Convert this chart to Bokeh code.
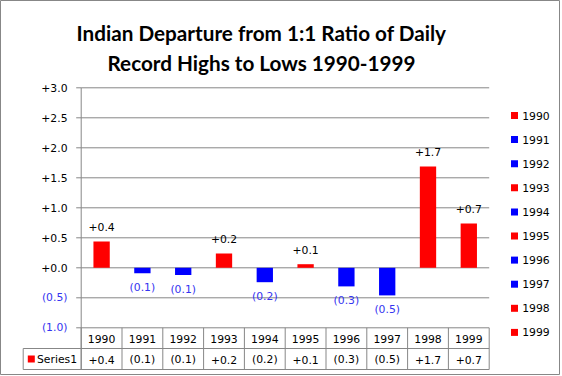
from bokeh.plotting import figure
from bokeh.models import Range1d, ColumnDataSource
from bokeh.core.properties import value
from bokeh.embed import file_html
from bokeh.resources import INLINE

# ---------------- data ----------------
years = ["1990", "1991", "1992", "1993", "1994", "1995", "1996", "1997", "1998", "1999"]
departures = [0.44, -0.09, -0.12, 0.24, -0.24, 0.06, -0.31, -0.46, 1.69, 0.74]
series_name = "Series1"
y_ticks = [3.0, 2.5, 2.0, 1.5, 1.0, 0.5, 0.0, -0.5, -1.0]
title_lines = ["Indian Departure from 1:1 Ratio of Daily",
               "Record Highs to Lows 1990-1999"]

# ---------------- style / layout ----------------
W, H = 560, 375
PX_X0, PX_CAT = 80.7, 40.8      # pixel of category edge 0, pixels per category
PX_Y0, PX_UNIT = 267.3, 60.0    # pixel of value 0, pixels per value unit
POS, NEG = "#FF0000", "#0000FF"
NEG_TEXT = "#3434F0"
GRID = "#878787"
FONT = value("DejaVu Sans")
FS = "10.8px"
LABEL_GAP = 0.235


def dx(px):
    return (px - PX_X0) / PX_CAT


def dy(py):
    return (PX_Y0 - py) / PX_UNIT


def fmt(v):
    s = f"{abs(v):.1f}"
    return "+" + s if v >= 0 else "(" + s + ")"


n = len(years)
xs = [i + 0.5 for i in range(n)]

p = figure(width=W, height=H, output_backend="svg", toolbar_location=None,
           x_range=Range1d(dx(0), dx(W)), y_range=Range1d(dy(H), dy(0)),
           x_axis_type=None, y_axis_type=None, min_border=0,
           outline_line_color=GRID, outline_line_width=1)
p.grid.visible = False
p.background_fill_color = "white"
p.border_fill_color = "white"

# gridlines
p.segment(x0=[0] * len(y_ticks), x1=[n] * len(y_ticks), y0=y_ticks, y1=y_ticks,
          line_color=GRID, line_width=1)
# y axis line (continues into table)
p.segment(x0=[0], x1=[0], y0=[max(y_ticks)], y1=[dy(369)], line_color=GRID, line_width=1)
# tick marks
p.segment(x0=[dx(75.7)] * len(y_ticks), x1=[0] * len(y_ticks), y0=y_ticks, y1=y_ticks,
          line_color=GRID, line_width=1)
# tick labels
tick_src = ColumnDataSource(dict(
    x=[dx(67)] * len(y_ticks), y=y_ticks, t=[fmt(t) for t in y_ticks],
    c=["black" if t >= 0 else NEG_TEXT for t in y_ticks]))
p.text(x="x", y="y", text="t", text_color="c", source=tick_src, text_font=FONT,
       text_font_size=FS, text_align="right", text_baseline="middle")

# bars
bar_src = ColumnDataSource(dict(
    x=xs, top=departures, c=[POS if v >= 0 else NEG for v in departures]))
p.vbar(x="x", top="top", bottom=0, width=0.4, fill_color="c", line_color=None, source=bar_src)

# data labels
lab_src = ColumnDataSource(dict(
    x=xs, y=[v + LABEL_GAP if v >= 0 else v - LABEL_GAP for v in departures],
    t=[fmt(v) for v in departures],
    c=["black" if v >= 0 else NEG_TEXT for v in departures]))
p.text(x="x", y="y", text="t", text_color="c", source=lab_src, text_font=FONT,
       text_font_size=FS, text_align="center", text_baseline="middle")

# data table
row_mid, row_bot = dy(348), dy(369)
cell_left = dx(22.7)
p.segment(x0=list(range(n + 1)), x1=list(range(n + 1)), y0=[min(y_ticks)] * (n + 1),
          y1=[row_bot] * (n + 1), line_color=GRID, line_width=1)
p.segment(x0=[cell_left, cell_left, cell_left], x1=[n, n, cell_left],
          y0=[row_mid, row_bot, row_mid], y1=[row_mid, row_bot, row_bot],
          line_color=GRID, line_width=1)
p.text(x=xs, y=[dy(338)] * n, text=years, text_font=FONT, text_font_size=FS,
       text_align="center", text_baseline="middle", text_color="black")
p.text(x=xs, y=[dy(359)] * n, text=[fmt(v) for v in departures], text_font=FONT,
       text_font_size=FS, text_align="center", text_baseline="middle", text_color="black")
p.scatter(x=[dx(30.8)], y=[dy(358.5)], marker="square", size=7, fill_color=POS, line_color=None)
p.text(x=[dx(36.5)], y=[dy(359)], text=[series_name], text_font=FONT, text_font_size=FS,
       text_align="left", text_baseline="middle", text_color="black")

# legend
leg_y = [dy(115 + 24.1 * i) for i in range(n)]
p.scatter(x=[dx(514)] * n, y=leg_y, marker="square", size=7,
          fill_color=[POS if v >= 0 else NEG for v in departures], line_color=None)
p.text(x=[dx(521.7)] * n, y=leg_y, text=years, text_font=FONT, text_font_size=FS,
       text_align="left", text_baseline="middle", text_color="black")

# title
p.text(x=[dx(261)] * 2, y=[dy(32.7), dy(62.3)], text=title_lines, text_font=value("Lato"),
       text_font_style="bold", text_font_size="20.7px", text_align="center",
       text_baseline="alphabetic", text_color="black")

open("out.html", "w").write(file_html(p, INLINE))
